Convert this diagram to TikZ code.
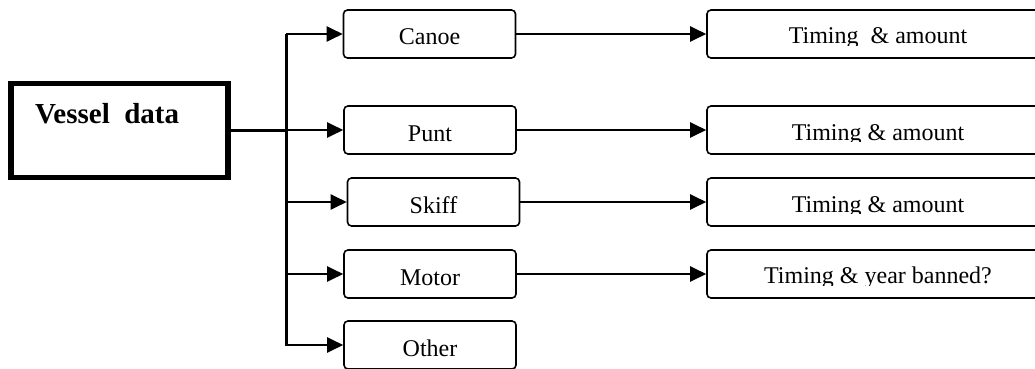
\documentclass[tikz,border=0pt]{standalone}
\usepackage{fontspec}
\setmainfont{Liberation Serif}
\usetikzlibrary{arrows.meta}
\begin{document}
\begin{tikzpicture}[x=1pt,y=-1pt,
  rbox/.style={draw, line width=1.6pt, rounded corners=4pt, inner sep=0pt,
    minimum width=172pt, minimum height=48pt},
  tbox/.style={rbox, minimum width=342pt},
  vbox/.style={draw, line width=5.5pt, inner sep=0pt, minimum width=217pt, minimum height=94pt},
  lbl/.style={font=\fontsize{24}{28}\selectfont, anchor=base, inner sep=0pt},
  vlbl/.style={font=\fontsize{29}{34}\selectfont\bfseries, anchor=base west, inner sep=0pt},
  conn/.style={line width=2.2pt, -{Triangle[length=16pt,width=15pt]}},
  trunkline/.style={line width=3pt}
]
\clip (0,0) rectangle (1035,369);
% main box
\node[vbox] (vessel) at (119.5,130.5) {};
\node[vlbl] (vlabel) at (35,123) {Vessel~~data};
% category boxes
\node[rbox] (canoe) at (429.5,34) {};
\node[rbox] (punt)  at (430,130) {};
\node[rbox] (skiff) at (433.5,202) {};
\node[rbox] (motor) at (430,274) {};
\node[rbox] (other) at (430,345) {};
\node[lbl] (canoel) at (429.5,45) {Canoe};
\node[lbl] (puntl)  at (430,141) {Punt};
\node[lbl] (skiffl) at (433.5,213) {Skiff};
\node[lbl] (motorl) at (430,285) {Motor};
\node[lbl] (otherl) at (430,356.5) {Other};
% timing boxes
\node[tbox] (t1) at (878,34) {};
\node[tbox] (t2) at (878,130) {};
\node[tbox] (t3) at (878,202) {};
\node[tbox] (t4) at (878,274) {};
\begin{scope}
  \clip (710,12) rectangle (1035,45.5);
  \node[lbl] (t1l) at (878,44) {Timing~~\&~amount};
\end{scope}
\begin{scope}
  \clip (710,108) rectangle (1035,141.5);
  \node[lbl] (t2l) at (878,140) {Timing \& amount};
\end{scope}
\begin{scope}
  \clip (710,180) rectangle (1035,213.5);
  \node[lbl] (t3l) at (878,212) {Timing \& amount};
\end{scope}
\begin{scope}
  \clip (710,252) rectangle (1035,285);
  \node[lbl] (t4l) at (878,283.5) {Timing \& year banned?};
\end{scope}
% trunk
\coordinate (trunk) at (286,0);
\coordinate (ttop) at (286,34);
\coordinate (tbot) at (286,346);
\draw[trunkline] (ttop) -- (tbot);
\draw[line width=3pt] (vessel.east) -- (vessel.east -| trunk);
\foreach \n in {canoe,punt,skiff,motor,other}{
  \draw[conn] (\n.west -| trunk) -- (\n.west);
}
\draw[conn] (canoe.east) -- (t1.west);
\draw[conn] (punt.east) -- (t2.west);
\draw[conn] (skiff.east) -- (t3.west);
\draw[conn] (motor.east) -- (t4.west);
\end{tikzpicture}
\end{document}
